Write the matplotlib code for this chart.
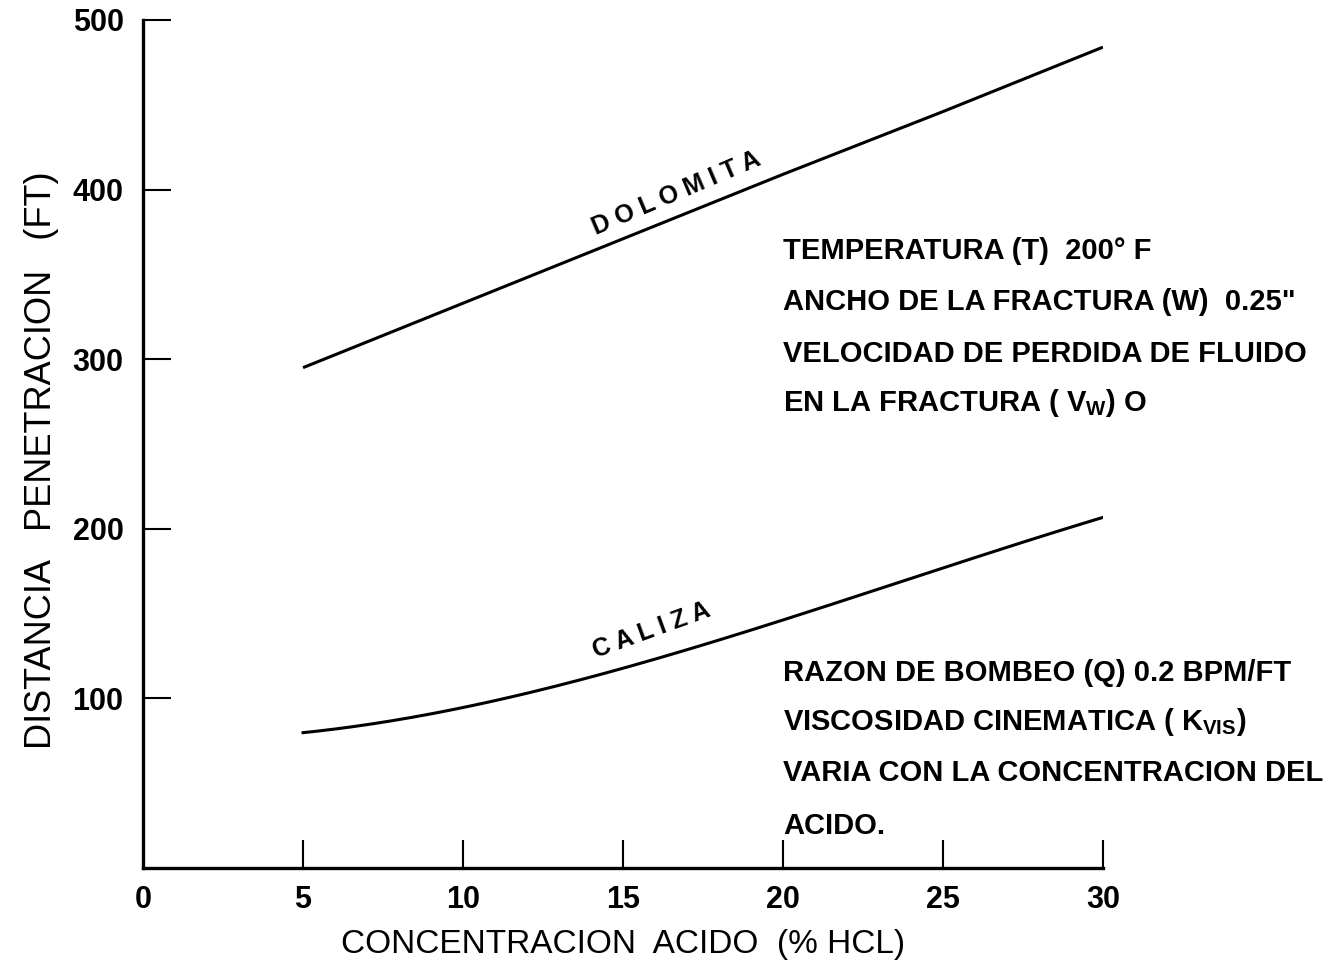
import matplotlib
matplotlib.use("Agg")
import matplotlib.pyplot as plt
import numpy as np

plt.rcParams['font.family'] = ['Liberation Sans', 'DejaVu Sans']
plt.rcParams['mathtext.fontset'] = 'custom'
plt.rcParams['mathtext.rm'] = 'Liberation Sans'
plt.rcParams['mathtext.bf'] = 'Liberation Sans:bold'

# Acid concentration (% HCl) and penetration distance (ft)
concentracion = [5, 10, 15, 20, 25, 30]
dolomita = [295, 333, 371, 409, 446, 484]
caliza = [80, 94, 118, 147, 176, 207]

x_ticks = [0, 5, 10, 15, 20, 25, 30]
y_ticks = [100, 200, 300, 400, 500]

fig = plt.figure(figsize=(13.42, 9.61), dpi=100)
ax = fig.add_axes([0.1066, 0.0968, 0.7153, 0.8824])

ax.plot(concentracion, dolomita, color='black', lw=2.2, solid_capstyle='butt')
# smooth curve through the limestone points
xs = np.linspace(5, 30, 200)
coef = np.polyfit(concentracion, caliza, 3)
ax.plot(xs, np.polyval(coef, xs), color='black', lw=2.2)

ax.set_xlim(0, 30)
ax.set_ylim(0, 500)
for s in ['top', 'right']:
    ax.spines[s].set_visible(False)
for s in ['left', 'bottom']:
    ax.spines[s].set_linewidth(2.4)

ax.set_xticks(x_ticks)
ax.set_yticks(y_ticks)
ax.tick_params(axis='both', direction='in', length=20, width=1.5,
               labelsize=22)
ax.tick_params(axis='x', pad=12)
ax.tick_params(axis='y', pad=14)
ax.xaxis.get_major_ticks()[0].tick1line.set_visible(False)
for lbl in ax.get_xticklabels() + ax.get_yticklabels():
    lbl.set_fontweight('bold')

ax.set_xlabel('CONCENTRACION  ACIDO  (% HCL)', fontsize=24, labelpad=10)
ax.set_ylabel('DISTANCIA   PENETRACION   (FT)', fontsize=26)
ax.yaxis.set_label_coords(-0.088, 0.481)

ax.text(16.66, 398, 'D O L O M I T A', rotation=23, ha='center', va='center',
        fontsize=18, fontweight='bold', rotation_mode='anchor')
ax.text(15.9, 140, 'C A L I Z A', rotation=20, ha='center', va='center',
        fontsize=18, fontweight='bold', rotation_mode='anchor')

block1 = [
    'TEMPERATURA (T)  200° F',
    'ANCHO DE LA FRACTURA (W)  0.25"',
    'VELOCIDAD DE PERDIDA DE FLUIDO',
    r'EN LA FRACTURA ( $\mathbf{V_W}$) O',
]
block1_y = [364, 334, 303, 274]
block2 = [
    'RAZON DE BOMBEO (Q) 0.2 BPM/FT',
    r'VISCOSIDAD CINEMATICA ( $\mathbf{K_{VIS}}$)',
    'VARIA CON LA CONCENTRACION DEL',
    'ACIDO.',
]
block2_y = [115, 86, 56, 25]
for txt, yy in zip(block1 + block2, block1_y + block2_y):
    ax.text(20.0, yy, txt, ha='left', va='center', fontsize=21,
            fontweight='bold', clip_on=False)

fig.savefig('out.png', dpi=100, facecolor='white')
